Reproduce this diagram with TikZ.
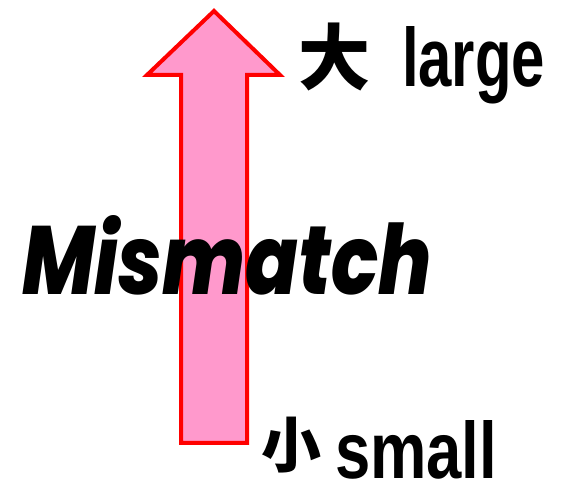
\documentclass[tikz,border=0pt]{standalone}
\usepackage{fontspec}
\setmainfont{Liberation Sans}
\newfontfamily\cjkfont{Noto Sans CJK JP}
\newfontfamily\misfont{Poppins}[BoldItalicFont={Poppins ExtraBold Italic}]
\definecolor{arrowpink}{HTML}{FF99CC}
\definecolor{arrowred}{HTML}{FF0000}
\begin{document}
\begin{tikzpicture}[x=1pt,y=1pt,
  txt/.style={inner sep=0pt, outer sep=0pt, anchor=base west},
  arrowline/.style={draw=arrowred, fill=arrowpink, line width=4pt, line join=miter}]
\useasboundingbox (0,0) rectangle (566,482);
\draw[arrowline] (181,39) -- (181,407) -- (147,407) -- (214,471) -- (280,407) -- (247,407) -- (247,39) -- cycle;
\node[txt] (mis) at (22,187) {\resizebox{410pt}{79pt}{\misfont\bfseries\itshape Mismatch}};
\node[txt] (dai) at (298,397) {\cjkfont\bfseries\fontsize{72pt}{72pt}\selectfont 大};
\node[txt] (large) at (402,395) {\resizebox{143pt}{60pt}{\bfseries large}};
\node[txt] (sho) at (261,14) {\cjkfont\bfseries\fontsize{60pt}{60pt}\selectfont 小};
\node[txt] (small) at (335,3) {\resizebox{162pt}{58pt}{\bfseries small}};
\end{tikzpicture}
\end{document}
